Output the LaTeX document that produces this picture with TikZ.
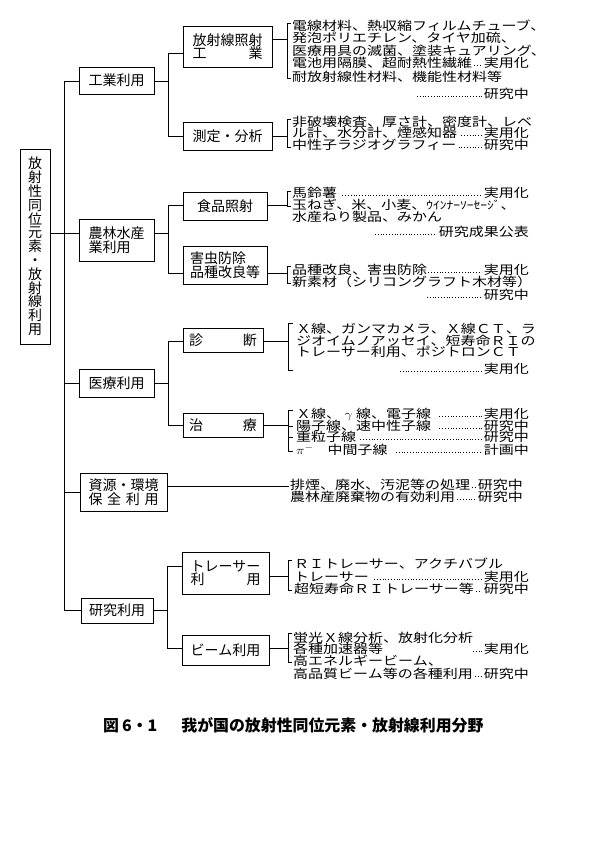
\documentclass[tikz,border=0pt]{standalone}
\usepackage{fontspec}
\newfontfamily\jp{Noto Sans CJK JP}
\newcommand\txtfont{\jp\fontsize{15}{15}\selectfont}
\begin{document}
\begin{tikzpicture}[x=1pt,y=-1pt,
  box/.style={draw, line width=0.7pt, inner sep=0pt, font=\jp\fontsize{14}{13.5}\selectfont, align=center},
  ln/.style={line width=0.6pt},
  lt/.style={anchor=west, inner sep=0pt, font=\txtfont, yscale=0.82},
  st/.style={anchor=east, inner sep=0pt, font=\txtfont, yscale=0.82},
  lead/.style={line width=0.7pt, dash pattern=on 0.7pt off 2.1pt},
]
\useasboundingbox[fill=white] (0,0) rectangle (592,846);

% ---------- root and level 1 ----------
\node[box, minimum width=30pt, minimum height=195pt, font=\jp\fontsize{14}{13.8}\selectfont] (root) at (35,246.5)
  {放\\射\\性\\同\\位\\元\\素\\・\\放\\射\\線\\利\\用};
\node[box, minimum width=75pt, minimum height=27pt] (ind) at (116.5,80.5) {工業利用};
\node[box, minimum width=75pt, minimum height=42pt, align=left] (agr) at (116.5,240) {農林水産\\業利用};
\node[box, minimum width=75pt, minimum height=28pt] (med) at (116.5,383) {医療利用};
\node[box, minimum width=87pt, minimum height=38pt] (env) at (123.5,492) {資源・環境\\\makebox[5em]{保\hfill 全\hfill 利\hfill 用}};
\node[box, minimum width=72pt, minimum height=25pt] (rsch) at (117,610.5) {研究利用};

% ---------- level 2 ----------
\node[box, minimum width=89pt, minimum height=41pt] (rad) at (227.5,46.5) {放射線照射\\\makebox[5em]{工\hfill 業}};
\node[box, minimum width=89pt, minimum height=28pt] (mea) at (227.5,136) {測定・分析};
\node[box, minimum width=84pt, minimum height=28pt] (food) at (225,206) {食品照射};
\node[box, minimum width=84pt, minimum height=38pt, align=left] (pest) at (225,265) {害虫防除\\品種改良等};
\node[box, minimum width=80pt, minimum height=24pt] (diag) at (223,340.5) {\makebox[68pt]{診\hfill 断}};
\node[box, minimum width=80pt, minimum height=24pt] (ther) at (223,425) {\makebox[68pt]{治\hfill 療}};
\node[box, minimum width=87pt, minimum height=42pt] (trc) at (225.5,573) {トレーサー\\\makebox[5em]{利\hfill 用}};
\node[box, minimum width=87pt, minimum height=30pt] (beam) at (225.5,650) {ビーム利用};

% ---------- spine ----------
\coordinate (s1) at (64,81);
\coordinate (s2) at (64,233);
\coordinate (s3) at (64,383);
\coordinate (s4) at (64,492);
\coordinate (s5) at (64,610);
\draw[ln] (s1) -- (s5);
\draw[ln] (root.east |- s2) -- (s2);
\draw[ln] (s1) -- (ind.west |- s1);
\draw[ln] (s2) -- (agr.west |- s2);
\draw[ln] (s3) -- (med.west |- s3);
\draw[ln] (s4) -- (env.west |- s4);
\draw[ln] (s5) -- (rsch.west |- s5);

% ---------- branches ----------
\coordinate (b1) at (168,81);  \coordinate (b1t) at (168,53);  \coordinate (b1b) at (168,136);
\draw[ln] (ind.east |- b1) -- (b1);
\draw[ln] (b1t) -- (b1b);
\draw[ln] (b1t) -- (rad.west |- b1t);
\draw[ln] (b1b) -- (mea.west |- b1b);

\coordinate (b2) at (168,233); \coordinate (b2t) at (168,205); \coordinate (b2b) at (168,273);
\draw[ln] (agr.east |- b2) -- (b2);
\draw[ln] (b2t) -- (b2b);
\draw[ln] (b2t) -- (food.west |- b2t);
\draw[ln] (b2b) -- (pest.west |- b2b);

\coordinate (b3) at (168,383); \coordinate (b3t) at (168,341); \coordinate (b3b) at (168,425);
\draw[ln] (med.east |- b3) -- (b3);
\draw[ln] (b3t) -- (b3b);
\draw[ln] (b3t) -- (diag.west |- b3t);
\draw[ln] (b3b) -- (ther.west |- b3b);

\coordinate (b5) at (167,610); \coordinate (b5t) at (167,566); \coordinate (b5b) at (167,648);
\draw[ln] (rsch.east |- b5) -- (b5);
\draw[ln] (b5t) -- (b5b);
\draw[ln] (b5t) -- (trc.west |- b5t);
\draw[ln] (b5b) -- (beam.west |- b5b);

% ---------- brackets ----------
\coordinate (ka) at (287,39);
\draw[ln] (rad.east |- ka) -- (ka);
\draw[ln] (291,23) -- (287,23) -- (287,78) -- (291,78);

\coordinate (kb) at (287,136);
\draw[ln] (mea.east |- kb) -- (kb);
\draw[ln] (291,119) -- (287,119) -- (287,147) -- (291,147);

\coordinate (kc) at (287,205);
\draw[ln] (food.east |- kc) -- (kc);
\draw[ln] (291,191) -- (287,191) -- (287,206) -- (291,206);

\coordinate (kd) at (287,273);
\draw[ln] (pest.east |- kd) -- (kd);
\draw[ln] (291,266) -- (287,266) -- (287,283) -- (291,283);

\coordinate (ke) at (288,341);
\draw[ln] (diag.east |- ke) -- (ke);
\draw[ln] (293,323) -- (288,323) -- (288,370) -- (293,370);

\coordinate (kf) at (288,425);
\draw[ln] (ther.east |- kf) -- (kf);
\draw[ln] (293,410) -- (288,410) -- (288,451) -- (293,451);
\draw[ln] (288,426) -- (293,426);
\draw[ln] (288,437) -- (293,437);

\coordinate (rr) at (289,486);
\draw[ln] (env.east |- rr) -- (rr);

\coordinate (kg) at (288,576);
\draw[ln] (trc.east |- kg) -- (kg);
\draw[ln] (292,560) -- (288,560) -- (288,590) -- (292,590);

\coordinate (kh) at (288,648);
\draw[ln] (beam.east |- kh) -- (kh);
\draw[ln] (292,633) -- (288,633) -- (288,662) -- (292,662);

% ---------- texts: 放射線照射工業 ----------
\node[lt] (A1) at (292,26) {電線材料、熱収縮フィルムチューブ、};
\node[lt] (A2) at (292,38) {発泡ポリエチレン、タイヤ加硫、};
\node[lt] (A3) at (292,51) {医療用具の滅菌、塗装キュアリング、};
\node[lt] (A4) at (292,63) {電池用隔膜、超耐熱性繊維};
\node[st] (A4s) at (529,63) {実用化};
\draw[lead] ([xshift=2pt,yshift=-2pt]A4.east) -- ([xshift=-2pt,yshift=-2pt]A4s.west);
\node[lt] (A5) at (292,77) {耐放射線性材料、機能性材料等};
\node[st] (A6s) at (529,94) {研究中};
\coordinate (A6d) at (417,96);
\draw[lead] (A6d) -- ([xshift=-2pt,yshift=-2pt]A6s.west);

% ---------- 測定・分析 ----------
\node[lt] (B1) at (292,122) {非破壊検査、厚さ計、密度計、レベ};
\node[lt] (B2) at (292,133) {ル計、水分計、煙感知器};
\node[st] (B2s) at (529,133) {実用化};
\draw[lead] ([xshift=4pt,yshift=-2pt]B2.east) -- ([xshift=-2pt,yshift=-2pt]B2s.west);
\node[lt] (B3) at (292,145) {中性子ラジオグラフィー};
\node[st] (B3s) at (529,145) {研究中};
\draw[lead] ([xshift=2pt,yshift=-2pt]B3.east) -- ([xshift=-2pt,yshift=-2pt]B3s.west);

% ---------- 食品照射 ----------
\node[lt] (C1) at (292,193) {馬鈴薯};
\node[st] (C1s) at (529,193) {実用化};
\draw[lead] ([xshift=5pt,yshift=-2pt]C1.east) -- ([xshift=-2pt,yshift=-2pt]C1s.west);
\node[lt] (C2) at (292,205) {玉ねぎ、米、小麦、{\fontsize{13.5}{13.5}\selectfont ｳｲﾝﾅｰｿｰｾｰｼﾞ}、};
\node[lt] (C3) at (292,217) {水産ねり製品、みかん};
\node[st] (C4s) at (529,232) {研究成果公表};
\coordinate (C4d) at (375,234);
\draw[lead] (C4d) -- ([xshift=-2pt,yshift=-2pt]C4s.west);

% ---------- 害虫防除品種改良等 ----------
\node[lt] (D1) at (292,270) {品種改良、害虫防除};
\node[st] (D1s) at (529,270) {実用化};
\draw[lead] ([xshift=1pt,yshift=-2pt]D1.east) -- ([xshift=-2pt,yshift=-2pt]D1s.west);
\node[lt] (D2) at (292,282) {新素材（シリコングラフト木材等）};
\node[st] (D3s) at (529,295) {研究中};
\coordinate (D3d) at (427,297);
\draw[lead] (D3d) -- ([xshift=-2pt,yshift=-2pt]D3s.west);

% ---------- 診断 ----------
\node[lt] (E1) at (296,329) {Ｘ線、ガンマカメラ、Ｘ線ＣＴ、ラ};
\node[lt] (E2) at (296,341) {ジオイムノアッセイ、短寿命ＲＩの};
\node[lt] (E3) at (296,352) {トレーサー利用、ポジトロンＣＴ};
\node[st] (E4s) at (529,369) {実用化};
\coordinate (E4d) at (400,371);
\draw[lead] (E4d) -- ([xshift=-2pt,yshift=-2pt]E4s.west);

% ---------- 治療 ----------
\node[lt] (F1) at (296,414) {Ｘ線、\makebox[1em]{$\gamma$}線、電子線};
\node[st] (F1s) at (529,414) {実用化};
\draw[lead] ([xshift=8pt,yshift=-2pt]F1.east) -- ([xshift=-2pt,yshift=-2pt]F1s.west);
\node[lt] (F2) at (296,426) {陽子線、速中性子線};
\node[st] (F2s) at (529,426) {研究中};
\draw[lead] ([xshift=8pt,yshift=-2pt]F2.east) -- ([xshift=-2pt,yshift=-2pt]F2s.west);
\node[lt] (F3) at (296,437) {重粒子線};
\node[st] (F3s) at (529,437) {研究中};
\draw[lead] ([xshift=4pt,yshift=-2pt]F3.east) -- ([xshift=-2pt,yshift=-2pt]F3s.west);
\node[lt] (F4) at (296,450) {$\pi^{-}$\hspace{14pt}中間子線};
\node[st] (F4s) at (529,450) {計画中};
\draw[lead] ([xshift=8pt,yshift=-2pt]F4.east) -- ([xshift=-2pt,yshift=-2pt]F4s.west);

% ---------- 資源・環境保全利用 ----------
\node[lt] (R1) at (290,485) {排煙、廃水、汚泥等の処理};
\node[st] (R1s) at (523,485) {研究中};
\draw[lead] ([xshift=2pt,yshift=-2pt]R1.east) -- ([xshift=-2pt,yshift=-2pt]R1s.west);
\node[lt] (R2) at (290,497) {農林産廃棄物の有効利用};
\node[st] (R2s) at (523,497) {研究中};
\draw[lead] ([xshift=2pt,yshift=-2pt]R2.east) -- ([xshift=-2pt,yshift=-2pt]R2s.west);

% ---------- トレーサー利用 ----------
\node[lt] (G1) at (294,564) {ＲＩトレーサー、アクチバブル};
\node[lt] (G2) at (294,577) {トレーサー};
\node[st] (G2s) at (529,577) {実用化};
\draw[lead] ([xshift=5pt,yshift=-2pt]G2.east) -- ([xshift=-2pt,yshift=-2pt]G2s.west);
\node[lt] (G3) at (294,589) {超短寿命ＲＩトレーサー等};
\node[st] (G3s) at (529,589) {研究中};
\draw[lead] ([xshift=2pt,yshift=-2pt]G3.east) -- ([xshift=-2pt,yshift=-2pt]G3s.west);

% ---------- ビーム利用 ----------
\node[lt] (H1) at (293,638) {蛍光Ｘ線分析、放射化分析};
\node[lt] (H2) at (293,649) {各種加速器等};
\node[st] (H2s) at (529,649) {実用化};
\coordinate (H2d) at (473,651);
\draw[lead] (H2d) -- ([xshift=-2pt,yshift=-2pt]H2s.west);
\node[lt] (H3) at (293,661) {高エネルギービーム、};
\node[lt] (H4) at (293,674) {高品質ビーム等の各種利用};
\node[st] (H4s) at (529,674) {研究中};
\draw[lead] ([xshift=2pt,yshift=-2pt]H4.east) -- ([xshift=-2pt,yshift=-2pt]H4s.west);

% ---------- caption ----------
\node[anchor=west, inner sep=0pt, font=\jp\bfseries\fontsize{15.9}{16}\selectfont] (cap) at (103,725)
  {図\hspace{3pt}6・1\hspace{24pt}我が国の放射性同位元素・放射線利用分野};
\end{tikzpicture}
\end{document}
